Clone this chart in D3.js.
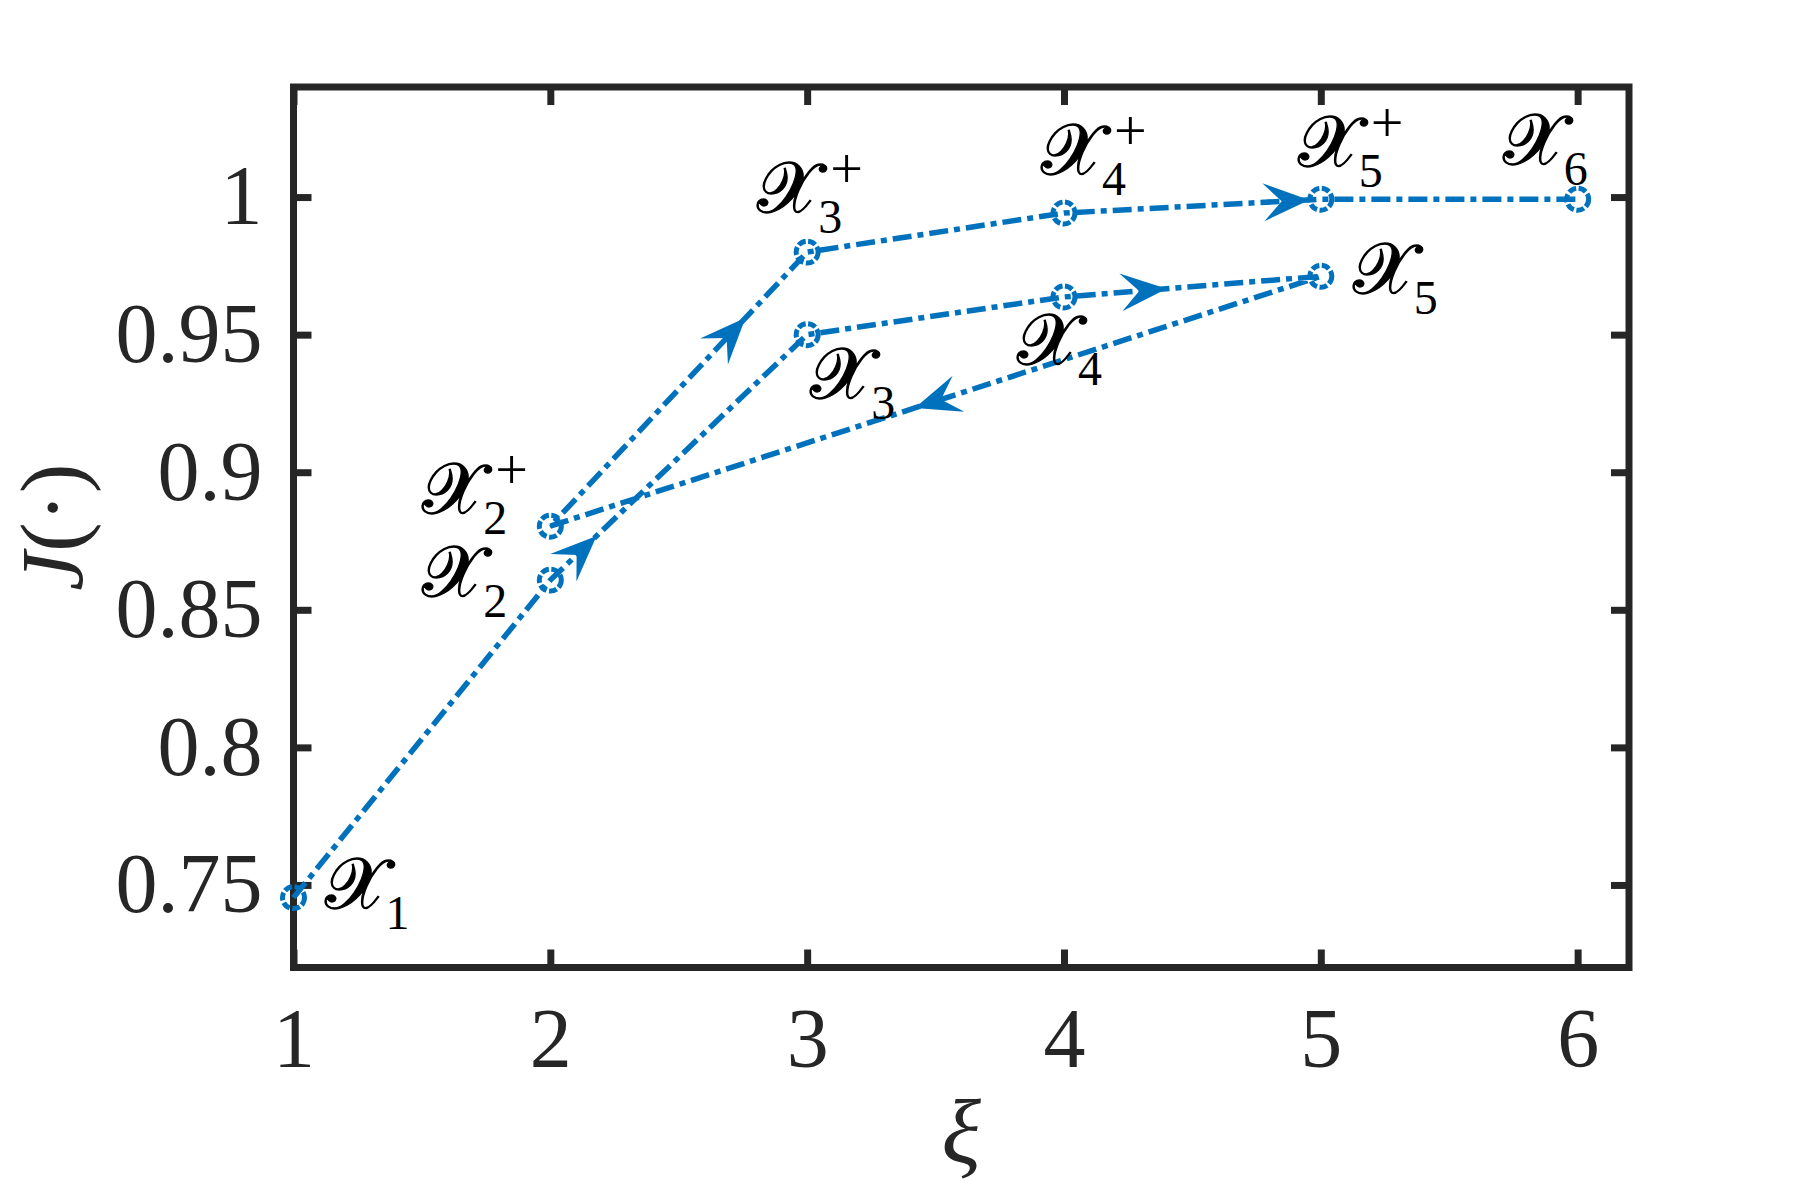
<!DOCTYPE html>
<html><head><meta charset="utf-8">
<script src="https://cdn.jsdelivr.net/npm/d3@7"></script>
<style>html,body{margin:0;padding:0;background:#fff;} svg{display:block}</style>
</head><body><svg id="chart" width="1800" height="1200"></svg>
<script>
// ---- data ----
const stepIndex = [1, 2, 3, 4, 5, 2, 3, 4, 5, 6];           // ξ of each visited point, in path order
const jValues   = [0.7454, 0.8608, 0.9500, 0.9637, 0.9712, 0.8804, 0.9800, 0.9942, 0.9992, 0.9992];
const pointSubs = ['1', '2', '3', '4', '5', '2', '3', '4', '5', '6'];
const pointPlus = [false, false, false, false, false, true, true, true, true, false];
const xTicks = [1, 2, 3, 4, 5, 6];
const yTicks = [0.75, 0.8, 0.85, 0.9, 0.95, 1];
const yTickLabels = ['0.75', '0.8', '0.85', '0.9', '0.95', '1'];
const arrowSegments = [1, 3, 4, 5, 7];          // segment k goes from point k to point k+1
const arrowFractions = [0.18, 0.40, 0.527, 0.76, 0.955];

// ---- layout ----
const W = 1800, H = 1200;
const L = 293.5, R = 1629, T = 87, B = 967.5;
const blue = '#0072BD', axisColor = '#262626';
const labelOffsets = [[31,10],[-128,16],[3,63],[-47,67],[32,17],[-128,-13],[-50,-40],[-23,-39],[-23,-33],[-75,-35]];

const svg = d3.select('#chart');
const x = d3.scaleLinear().domain([1, 6.2]).range([L, R]);
const y = d3.scaleLinear().domain([0.72, 1.04]).range([B, T]);

const tickFont = "'Liberation Serif', 'Times New Roman', serif";

// axes
function styleAxis(g) {
  g.select('.domain').remove();
  g.selectAll('.tick line').attr('stroke', axisColor).attr('stroke-width', 7);
  g.selectAll('.tick text').attr('fill', axisColor).attr('font-family', tickFont).attr('font-size', 84);
}
svg.append('g').attr('transform', `translate(0,${B})`)
  .call(d3.axisBottom(x).tickValues(xTicks).tickFormat(d3.format('d')).tickSize(-18).tickPadding(40))
  .call(styleAxis);
svg.append('g').attr('transform', `translate(0,${T})`)
  .call(d3.axisTop(x).tickValues(xTicks).tickFormat('').tickSize(-18))
  .call(styleAxis);
svg.append('g').attr('transform', `translate(${L},0)`)
  .call(d3.axisLeft(y).tickValues(yTicks).tickFormat((d, i) => yTickLabels[i]).tickSize(-18).tickPadding(31))
  .call(styleAxis);
svg.append('g').attr('transform', `translate(${R},0)`)
  .call(d3.axisRight(y).tickValues(yTicks).tickFormat('').tickSize(-18))
  .call(styleAxis);

svg.append('rect').attr('x', L).attr('y', T).attr('width', R - L).attr('height', B - T)
  .attr('fill', 'none').attr('stroke', axisColor).attr('stroke-width', 7);

// axis labels
svg.append('text').attr('x', (L + R) / 2).attr('y', 1163).attr('text-anchor', 'middle')
  .attr('font-family', tickFont).attr('font-style', 'italic').attr('font-size', 92).attr('fill', axisColor)
  .text('ξ');
const yl = svg.append('text').attr('transform', `translate(82,${(T + B) / 2}) rotate(-90)`)
  .attr('text-anchor', 'middle').attr('font-family', tickFont).attr('font-size', 88).attr('fill', axisColor);
yl.append('tspan').attr('font-style', 'italic').text('J');
yl.append('tspan').text('(·)');

// path
const pts = stepIndex.map((s, i) => [x(s), y(jValues[i])]);
svg.append('path').attr('d', d3.line()(pts)).attr('fill', 'none')
  .attr('stroke', blue).attr('stroke-width', 5.5).attr('stroke-dasharray', '19,6,6,6');

// markers
svg.selectAll('circle.m').data(pts).join('circle').attr('class', 'm')
  .attr('cx', d => d[0]).attr('cy', d => d[1]).attr('r', 11)
  .attr('fill', 'none').attr('stroke', blue).attr('stroke-width', 5).attr('stroke-dasharray', '8,2.5');

// arrows
const AL = 46, AW = 38;
arrowSegments.forEach((k, i) => {
  const p0 = pts[k], p1 = pts[k + 1], t = arrowFractions[i];
  const tx = p0[0] + (p1[0] - p0[0]) * t, ty = p0[1] + (p1[1] - p0[1]) * t;
  const ang = Math.atan2(p1[1] - p0[1], p1[0] - p0[0]) * 180 / Math.PI;
  svg.append('path').attr('d', `M0,0 L${-AL},${-AW / 2} L${-0.6 * AL},0 L${-AL},${AW / 2} Z`)
    .attr('transform', `translate(${tx},${ty}) rotate(${ang})`).attr('fill', blue);
});

// point labels
pts.forEach((p, i) => {
  const lx = p[0] + labelOffsets[i][0], ly = p[1] + labelOffsets[i][1];
  const t = svg.append('text').attr('fill', '#000');
  t.append('tspan').attr('x', lx).attr('y', ly)
    .attr('font-family', "'DejaVu Serif', 'DejaVu Sans', 'Noto Sans', serif").attr('font-size', 72)
    .attr('stroke', '#000').attr('stroke-width', 1.3).text('𝒳');
  t.append('tspan').attr('x', lx + 61).attr('y', ly + 21)
    .attr('font-family', tickFont).attr('font-size', 48).text(pointSubs[i]);
  if (pointPlus[i]) {
    t.append('tspan').attr('x', lx + 73).attr('y', ly - 24)
      .attr('font-family', tickFont).attr('font-size', 58).text('+');
  }
});
</script></body></html>
